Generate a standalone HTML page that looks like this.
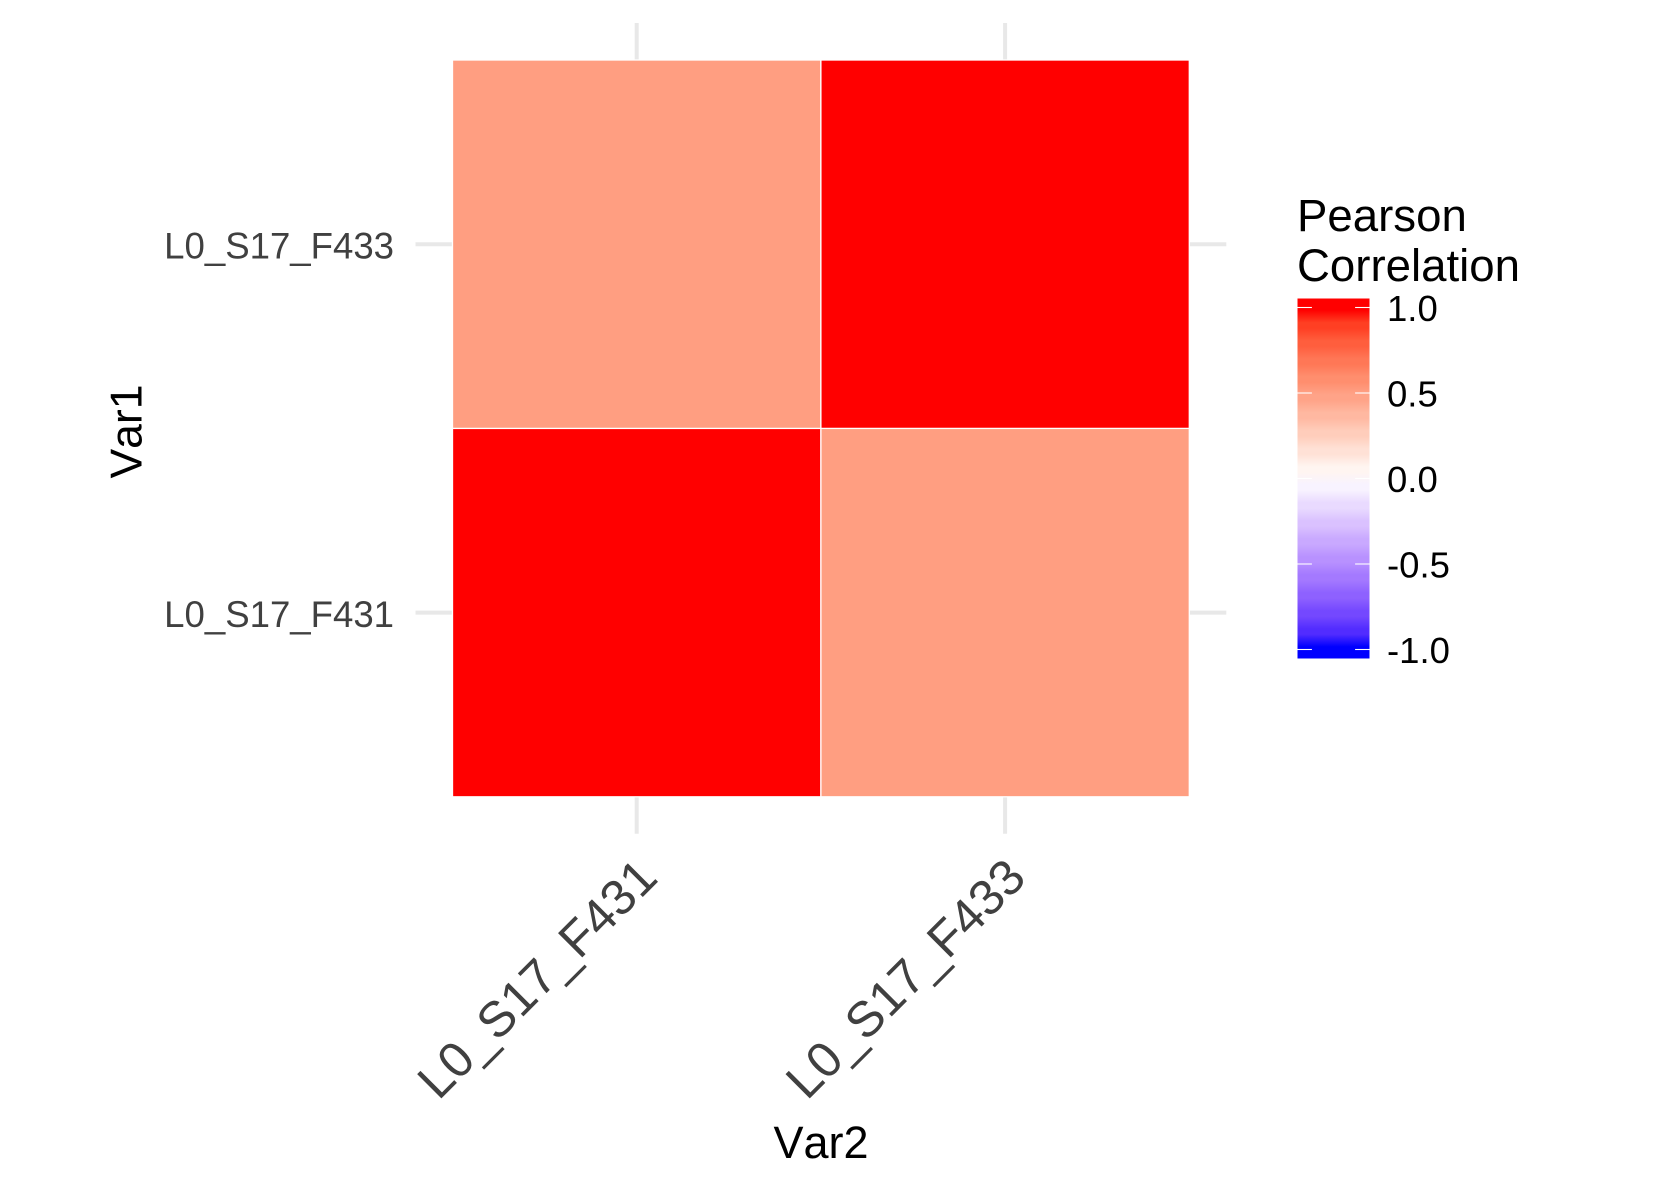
<!DOCTYPE html>
<html lang="en">
<head>
<meta charset="utf-8">
<title>Pearson Correlation Heatmap</title>
<style>
  html, body { margin: 0; padding: 0; background: #fff; }
  svg { display: block; font-family: "Liberation Sans", Arial, sans-serif; font-kerning: none; }
</style>
</head>
<body>
<svg id="chart" xmlns="http://www.w3.org/2000/svg" width="1653" height="1181" viewBox="0 0 1653 1181">
  <rect x="0" y="0" width="1653" height="1181" fill="#ffffff"/>
  <g id="grid"></g>
  <g id="tiles"></g>
  <g id="x-labels"></g>
  <g id="y-labels"></g>
  <text x="821" y="1158" font-size="45" text-anchor="middle" fill="#000000">Var2</text>
  <text transform="translate(141.5 431.5) rotate(-90)" font-size="44.5" text-anchor="middle" fill="#000000">Var1</text>
  <g>
    <text x="1297" y="231" font-size="45.6" fill="#000000">Pearson</text>
    <text x="1297" y="281" font-size="45.6" fill="#000000">Correlation</text>
    <defs><linearGradient id="bar-gradient" x1="0" y1="0" x2="0" y2="1"></linearGradient></defs>
    <rect x="1297.5" y="298.5" width="72" height="360" fill="url(#bar-gradient)"/>
    <g id="legend-ticks"></g>
    <g id="legend-labels"></g>
  </g>
</svg>
<script>
const xCategories = ['L0_S17_F431', 'L0_S17_F433'];
const yCategories = ['L0_S17_F431', 'L0_S17_F433'];
const rowF431Values = [1, 0.5];
const rowF433Values = [0.5, 1];
const legendBreaks = [1, 0.5, 0, -0.5, -1];

const SVGNS = 'http://www.w3.org/2000/svg';
const plot = { left: 452.5, top: 60, size: 368.4 };
const bar = { left: 1297.5, top: 298.5, width: 72, height: 360, bins: 20 };

function xBand(i) { return plot.left + i * plot.size; }
function yBand(i) { return plot.top + (yCategories.length - 1 - i) * plot.size; }
function legendY(v) {
  const step = bar.height / bar.bins;
  return bar.top + step / 2 + (1 - v) / 2 * (bar.height - step);
}

function rgbToLab(c) {
  const lin = c.map(function (u) { u /= 255; return u > 0.04045 ? Math.pow((u + 0.055) / 1.055, 2.4) : u / 12.92; });
  const X = (0.4124564 * lin[0] + 0.3575761 * lin[1] + 0.1804375 * lin[2]) / 0.95047;
  const Y = 0.2126729 * lin[0] + 0.7151522 * lin[1] + 0.0721750 * lin[2];
  const Z = (0.0193339 * lin[0] + 0.1191920 * lin[1] + 0.9503041 * lin[2]) / 1.08883;
  const f = function (t) { return t > 0.008856 ? Math.cbrt(t) : 7.787 * t + 16 / 116; };
  return [116 * f(Y) - 16, 500 * (f(X) - f(Y)), 200 * (f(Y) - f(Z))];
}
function labToRgb(l) {
  const fy = (l[0] + 16) / 116, fx = fy + l[1] / 500, fz = fy - l[2] / 200;
  const g = function (t) { return t * t * t > 0.008856 ? t * t * t : (t - 16 / 116) / 7.787; };
  const X = g(fx) * 0.95047, Y = g(fy), Z = g(fz) * 1.08883;
  const lin = [
    3.2404542 * X - 1.5371385 * Y - 0.4985314 * Z,
    -0.9692660 * X + 1.8760108 * Y + 0.0415560 * Z,
    0.0556434 * X - 0.2040259 * Y + 1.0572252 * Z
  ];
  return lin.map(function (u) {
    u = u <= 0.0031308 ? 12.92 * u : 1.055 * Math.pow(Math.max(u, 0), 1 / 2.4) - 0.055;
    return Math.round(Math.min(1, Math.max(0, u)) * 255);
  });
}
const labWhite = rgbToLab([255, 255, 255]);
const labRed = rgbToLab([255, 0, 0]);
const labBlue = rgbToLab([0, 0, 255]);
function colorScale(v) {
  const t = Math.min(1, Math.abs(v));
  const end = v >= 0 ? labRed : labBlue;
  const mix = labWhite.map(function (w, k) { return w + (end[k] - w) * t; });
  const c = labToRgb(mix);
  return 'rgb(' + c[0] + ',' + c[1] + ',' + c[2] + ')';
}

function make(tag, parentId) {
  const el = document.createElementNS(SVGNS, tag);
  document.getElementById(parentId).appendChild(el);
  return el;
}

/* grid lines (sit behind the tiles) */
xCategories.forEach(function (name, i) {
  const x = xBand(i) + plot.size / 2;
  const el = make('line', 'grid');
  
  
  el.setAttribute('x1', x); el.setAttribute('x2', x);
  el.setAttribute('y1', plot.top - 37); el.setAttribute('y2', plot.top + 2 * plot.size + 37);
  el.setAttribute('stroke', '#e8e8e8'); el.setAttribute('stroke-width', 4);
});
yCategories.forEach(function (name, i) {
  const y = yBand(i) + plot.size / 2;
  const el = make('line', 'grid');
  
  
  el.setAttribute('y1', y); el.setAttribute('y2', y);
  el.setAttribute('x1', plot.left - 37); el.setAttribute('x2', plot.left + 2 * plot.size + 37);
  el.setAttribute('stroke', '#e8e8e8'); el.setAttribute('stroke-width', 4);
});

/* tiles */
[rowF431Values, rowF433Values].forEach(function (row, r) {
  row.forEach(function (value, c) {
    const el = make('rect', 'tiles');
    
    
    el.setAttribute('x', xBand(c)); el.setAttribute('y', yBand(r));
    el.setAttribute('width', plot.size); el.setAttribute('height', plot.size);
    el.setAttribute('fill', colorScale(value));
    el.setAttribute('stroke', '#ffffff'); el.setAttribute('stroke-width', 1.3);
  });
});

/* axis labels */
xCategories.forEach(function (name, i) {
  const x = xBand(i) + plot.size / 2 + 23;
  const el = make('text', 'x-labels');
  
  
  el.setAttribute('transform', 'translate(' + x + ' 880) rotate(-45)');
  el.setAttribute('text-anchor', 'end');
  el.setAttribute('font-size', 49.8);
  el.setAttribute('fill', '#404040');
  el.textContent = name;
});
yCategories.forEach(function (name, i) {
  const el = make('text', 'y-labels');
  
  
  el.setAttribute('x', 394);
  el.setAttribute('y', yBand(i) + plot.size / 2 + 14.2);
  el.setAttribute('text-anchor', 'end');
  el.setAttribute('font-size', 36.6);
  el.setAttribute('fill', '#404040');
  el.textContent = name;
});

/* colour bar: 20 bins softened by raster interpolation */
for (let b = 0; b < bar.bins; b++) {
  const v = 1 - 2 * b / (bar.bins - 1);
  [0.35, 0.65].forEach(function (pos) {
    const stop = make('stop', 'bar-gradient');
    stop.setAttribute('offset', (b + pos) / bar.bins);
    stop.setAttribute('stop-color', colorScale(v));
  });
}

/* legend ticks and labels */
legendBreaks.forEach(function (v) {
  const y = legendY(v);
  [[bar.left, bar.left + 14.4], [bar.left + bar.width - 14.4, bar.left + bar.width]].forEach(function (seg) {
    const tick = make('line', 'legend-ticks');
    
    
    tick.setAttribute('x1', seg[0]); tick.setAttribute('x2', seg[1]);
    tick.setAttribute('y1', y); tick.setAttribute('y2', y);
    tick.setAttribute('stroke', '#ffffff'); tick.setAttribute('stroke-width', 1.1);
  });
  const label = make('text', 'legend-labels');
  
  
  label.setAttribute('x', 1387);
  label.setAttribute('y', y + 13.4);
  label.setAttribute('font-size', 36.5);
  label.setAttribute('fill', '#000000');
  label.textContent = v.toFixed(1);
});
</script>
</body>
</html>
